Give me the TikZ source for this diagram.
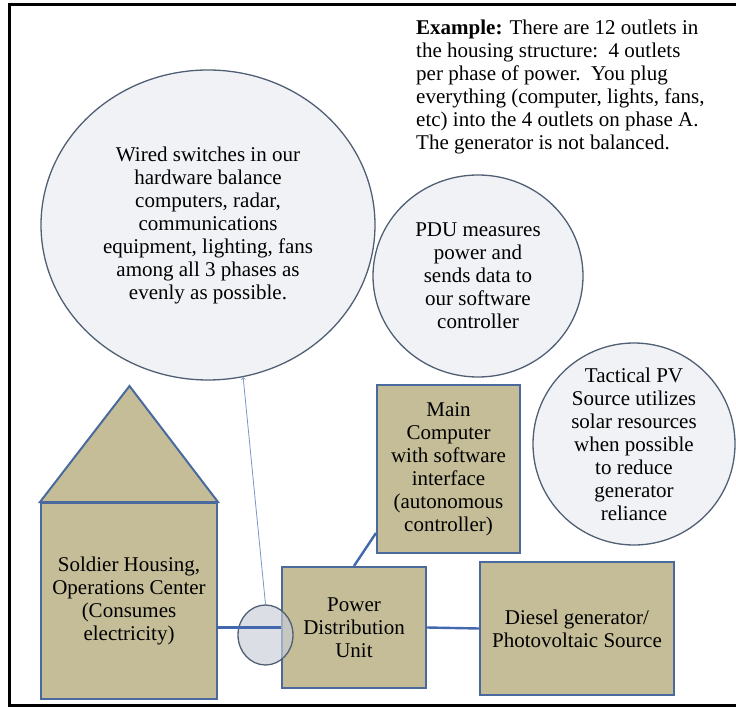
\documentclass[tikz,border=0pt]{standalone}
\usepackage{fontspec}
\setmainfont{Liberation Serif}
\usetikzlibrary{shapes.geometric}
\definecolor{boxtan}{RGB}{196,189,151}
\definecolor{boxblue}{RGB}{74,106,158}
\definecolor{wireblue}{RGB}{68,104,176}
\definecolor{hintblue}{RGB}{120,150,200}
\definecolor{rimgray}{RGB}{80,95,115}
\definecolor{bubblefill}{RGB}{241,242,245}
\definecolor{tapfill}{RGB}{200,205,215}
\newcommand{\txtsize}{\fontsize{21}{23}\selectfont}
\tikzset{
	fillbox/.style={draw=boxblue,fill=boxtan,line width=2pt},
	unit/.style={fillbox,align=center,inner sep=0pt,font=\txtsize},
	bubble/.style={ellipse,draw=rimgray,fill=bubblefill,line width=1.3pt,align=center,inner sep=-20pt,font=\txtsize},
	wire/.style={wireblue,line width=2.4pt},
	hint/.style={->,hintblue,line width=0.8pt}
}

\begin{document}
\begin{tikzpicture}[x=1pt,y=-1pt]
	\useasboundingbox (0,0) rectangle (736,708);
	\draw[line width=3pt] (745,4.5) -- (9.5,4.5) -- (9.5,705.5) -- (745,705.5);
	\node[anchor=west,align=left,inner sep=0pt,font=\txtsize] (example) at (416,87)
		{\textbf{Example:} There are 12 outlets in\\the housing structure:\ \ 4 outlets\\per phase of power.\ \ You plug\\everything (computer, lights, fans,\\etc) into the 4 outlets on phase A.\\The generator is not balanced.};
	\node[bubble,minimum width=334,minimum height=310] (wired) at (208,225)
		{Wired switches in our\\hardware balance\\computers, radar,\\communications\\equipment, lighting, fans\\among all 3 phases as\\evenly as possible.};
	\node[bubble,minimum width=210,minimum height=202] (measure) at (478,276)
		{PDU measures\\power and\\sends data to\\our software\\controller};
	\node[bubble,minimum width=202,minimum height=202] (solar) at (634,444)
		{Tactical PV\\Source utilizes\\solar resources\\when possible\\to reduce\\generator\\reliance};
	\node[unit,minimum width=176,minimum height=196] (house) at (129,601)
		{Soldier Housing,\\Operations Center\\(Consumes\\electricity)};
	\coordinate (peak) at (129.5,386);
	\draw[fillbox] (house.north west) -- (peak) -- (house.north east) -- cycle;
	\node[unit,minimum width=143,minimum height=168] (main) at (448.5,469)
		{Main\\Computer\\with software\\interface\\(autonomous\\controller)};
	\node[unit,minimum width=144,minimum height=121] (pdu) at (354,627.5)
		{Power\\Distribution\\Unit};
	\node[unit,minimum width=194,minimum height=133] (diesel) at (577,628.5)
		{Diesel generator/\\Photovoltaic Source};
	\node[ellipse,draw=rimgray,fill=tapfill,fill opacity=0.65,line width=1.3pt,minimum width=55,minimum height=60,inner sep=0pt] (tap) at (265.5,635) {};
	\draw[wire] (house.east |- pdu.west) -- (pdu.west);
	\draw[wire] (pdu.east) -- (diesel.west);
	\draw[wire] (pdu.north) -- ([yshift=21pt]main.south west);
	\draw[hint] (tap.north) -- (wired.-77);
\end{tikzpicture}
\end{document}
